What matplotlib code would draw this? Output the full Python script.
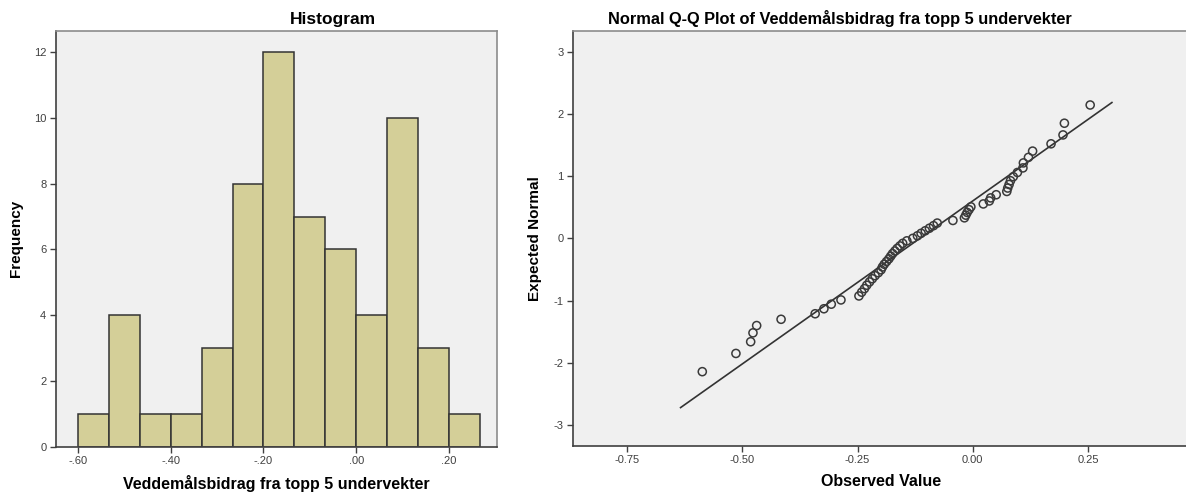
import matplotlib
matplotlib.use("Agg")
import matplotlib.pyplot as plt
import numpy as np
from statistics import NormalDist

plt.rcParams['font.family'] = ['Liberation Sans', 'DejaVu Sans']
plt.rcParams['axes.unicode_minus'] = False

# Veddemålsbidrag fra topp 5 undervekter (n = 61), sorted
observed = [
    -0.587, -0.514, -0.482, -0.477, -0.469, -0.416, -0.342, -0.323, -0.307, -0.286,
    -0.247, -0.241, -0.235, -0.230, -0.224, -0.218, -0.212, -0.205,
    -0.199, -0.196, -0.192, -0.187, -0.182, -0.178, -0.174, -0.169,
    -0.164, -0.158, -0.152, -0.143,
    -0.130, -0.120, -0.112, -0.103, -0.094, -0.085, -0.077,
    -0.043, -0.018, -0.015, -0.012, -0.008, -0.004,
    0.023, 0.036, 0.039, 0.051,
    0.074, 0.076, 0.079, 0.082, 0.088, 0.097, 0.109, 0.110, 0.121, 0.130,
    0.170, 0.196, 0.199, 0.255,
]

bin_start = -0.60
bin_width = 1 / 15
n_bins = 13

hist_xticks = [-0.60, -0.40, -0.20, 0.00, 0.20]
hist_xlabels = ['-.60', '-.40', '-.20', '.00', '.20']
hist_yticks = [0, 2, 4, 6, 8, 10, 12]
qq_xticks = [-0.75, -0.50, -0.25, 0.00, 0.25]
qq_yticks = [-3, -2, -1, 0, 1, 2, 3]

var_name = 'Veddemålsbidrag fra topp 5 undervekter'

panel_bg = '#f0f0f0'
bar_color = '#d4cf98'
ink = '#333333'


def style_axes(ax):
    ax.set_facecolor(panel_bg)
    for side in ('left', 'bottom'):
        ax.spines[side].set_color('#404040')
        ax.spines[side].set_linewidth(1.2)
    for side in ('top', 'right'):
        ax.spines[side].set_color('#8c8c8c')
        ax.spines[side].set_linewidth(1.2)
    ax.tick_params(direction='out', length=4, width=1.0, color='#404040',
                   labelsize=8, labelcolor='#404040', pad=3)


fig = plt.figure(figsize=(11.86, 4.94), dpi=100)

# histogram
ax1 = fig.add_axes([0.0472, 0.0957, 0.3718, 0.8415])
style_axes(ax1)
edges = bin_start + bin_width * np.arange(n_bins + 1)
ax1.hist(observed, bins=edges, color=bar_color, edgecolor=ink, linewidth=1.1)
ax1.set_xlim(-0.647, 0.303)
ax1.set_ylim(0, 12.64)
ax1.set_xticks(hist_xticks)
ax1.set_xticklabels(hist_xlabels)
ax1.set_yticks(hist_yticks)
ax1.set_title('Histogram', fontsize=12.5, fontweight='bold', x=0.627, pad=5)
ax1.set_xlabel(var_name, fontsize=11.5, fontweight='bold', labelpad=6)
ax1.set_ylabel('Frequency', fontsize=11, fontweight='bold', labelpad=8)

# normal Q-Q plot
ax2 = fig.add_axes([0.4834, 0.0978, 0.5267, 0.8395])
style_axes(ax2)
x = np.sort(np.array(observed))
n = len(x)
expected = np.array([NormalDist().inv_cdf(r / (n + 1)) for r in range(1, n + 1)])
ax2.scatter(x, expected, s=34, facecolors='none', edgecolors='#3a3a3a',
            linewidths=1.1, zorder=3)

mean = x.mean()
sd = x.std(ddof=1)
span = x.max() - x.min()
line_x = np.array([x.min() - 0.056 * span, x.max() + 0.056 * span])
ax2.plot(line_x, (line_x - mean) / sd, color=ink, linewidth=1.2, zorder=2)

ax2.set_xlim(-0.867, 0.489)
ax2.set_ylim(-3.33, 3.33)
ax2.set_xticks(qq_xticks)
ax2.set_xticklabels(['%.2f' % t for t in qq_xticks])
ax2.set_yticks(qq_yticks)
ax2.set_title('Normal Q-Q Plot of ' + var_name, fontsize=11.8, fontweight='bold',
              x=0.427, pad=5)
ax2.set_xlabel('Observed Value', fontsize=11.5, fontweight='bold', labelpad=6)
ax2.xaxis.label.set_x(0.4926)
ax2.set_ylabel('Expected Normal', fontsize=11, fontweight='bold', labelpad=8)

fig.savefig('out.png', dpi=100)
